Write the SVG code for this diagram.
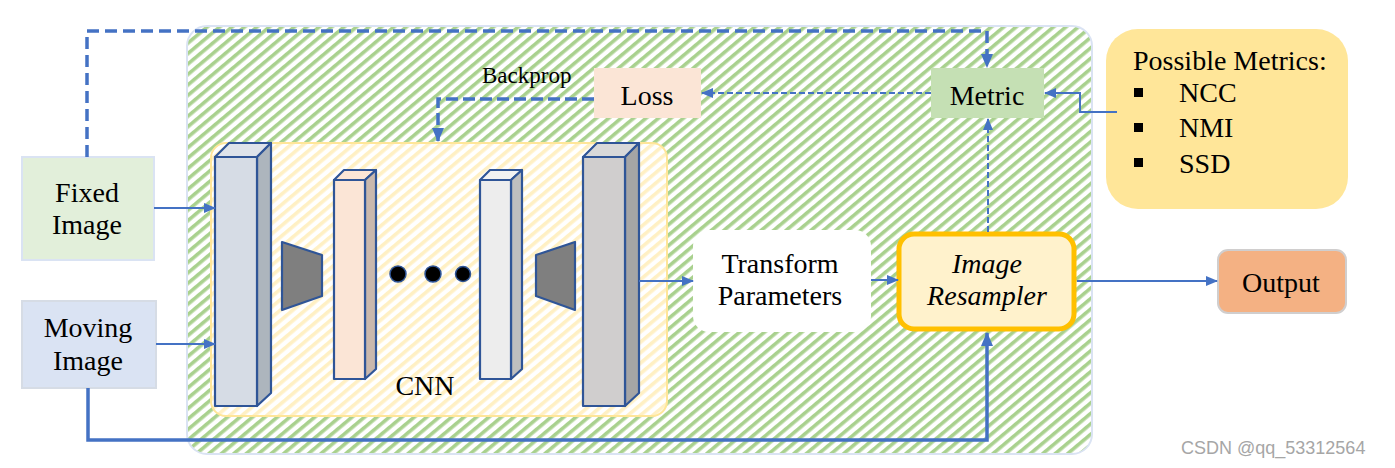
<svg xmlns="http://www.w3.org/2000/svg" width="1395" height="468" viewBox="0 0 1395 468">
<style>
.lbl{font-family:"Liberation Serif",serif;font-size:28px;fill:#000000;text-anchor:middle}
.lbs{font-family:"Liberation Serif",serif;font-size:28px;fill:#000000}
.edge{stroke:#4472c4;stroke-width:2;fill:none}
.thick{stroke:#4472c4;stroke-width:3.5;fill:none}
.blk{stroke:#2f5597;stroke-width:2.2;stroke-linejoin:round}
</style>
<defs>
<pattern id="gh" width="8" height="10" patternUnits="userSpaceOnUse" patternTransform="rotate(50)">
<rect width="8" height="10" fill="#ffffff"/>
<rect width="3.6" height="10" fill="#a9d18e"/>
</pattern>
<pattern id="yh" width="8" height="10" patternUnits="userSpaceOnUse" patternTransform="rotate(50)">
<rect width="8" height="10" fill="#ffffff"/>
<rect width="3.6" height="10" fill="#fff0c4"/>
</pattern>
<marker id="a" markerWidth="12" markerHeight="10" refX="11" refY="5" orient="auto" markerUnits="userSpaceOnUse">
<path d="M0,0 L12,5 L0,10 z" fill="#4472c4"/>
</marker>
<marker id="ab" markerWidth="14" markerHeight="12" refX="13" refY="6" orient="auto" markerUnits="userSpaceOnUse">
<path d="M0,0 L14,6 L0,12 z" fill="#4472c4"/>
</marker>
</defs>

<g id="outer">
<rect x="187" y="26" width="905" height="428" rx="20" fill="url(#gh)" stroke="#dae3f3" stroke-width="2"/>
</g>

<g id="cnn">
<rect x="211" y="143" width="456" height="273" rx="15" fill="url(#yh)" stroke="#ffe699" stroke-width="2"/>
<text class="lbl" x="425" y="395">CNN</text>
</g>

<g id="block1">
<polygon class="blk" points="215,157 229,143 271,143 257,157" fill="#dee3ea"/>
<polygon class="blk" points="257,157 271,143 271,393 257,406" fill="#adb5bd"/>
<rect class="blk" x="215" y="157" width="42" height="249" fill="#d6dce5"/>
</g>
<g id="block2">
<polygon class="blk" points="334,180 344,170 376,170 365,180" fill="#fbe5d6"/>
<polygon class="blk" points="365,180 376,170 376,369 365,379" fill="#c9b8ad"/>
<rect class="blk" x="334" y="180" width="31" height="199" fill="#fbe5d6"/>
</g>
<g id="block3">
<polygon class="blk" points="480,180 490,170 522,170 511,180" fill="#f2f2f2"/>
<polygon class="blk" points="511,180 522,170 522,369 511,379" fill="#bfbfbf"/>
<rect class="blk" x="480" y="180" width="31" height="199" fill="#ededed"/>
</g>
<g id="block4">
<polygon class="blk" points="583,157 597,143 639,143 625,157" fill="#d9d9d9"/>
<polygon class="blk" points="625,157 639,143 639,393 625,406" fill="#a5a5a5"/>
<rect class="blk" x="583" y="157" width="42" height="249" fill="#d0cece"/>
</g>
<g id="pool1">
<polygon class="blk" points="282,242 322,255 322,296 282,310" fill="#7f7f7f"/>
</g>
<g id="pool2">
<polygon class="blk" points="536,255 575,242 575,310 536,296" fill="#7f7f7f"/>
</g>
<g id="dots">
<circle cx="398" cy="274" r="8" fill="#000" stroke="#2f5597" stroke-width="1.5"/>
<circle cx="433" cy="274" r="8" fill="#000" stroke="#2f5597" stroke-width="1.5"/>
<circle cx="463" cy="274" r="7.5" fill="#000" stroke="#2f5597" stroke-width="1.5"/>
</g>

<g id="fixed">
<rect x="22" y="157" width="132" height="103" fill="#e2efda" stroke="#dae3f3" stroke-width="2"/>
<text class="lbl" x="87" y="202">Fixed</text>
<text class="lbl" x="87" y="234">Image</text>
</g>
<g id="moving">
<rect x="22" y="301" width="134" height="87" fill="#dae3f3" stroke="#d6dce5" stroke-width="2"/>
<text class="lbl" x="88" y="337">Moving</text>
<text class="lbl" x="88" y="370">Image</text>
</g>
<g id="transform">
<rect x="693" y="230" width="178" height="102" rx="16" fill="#ffffff"/>
<text class="lbl" x="780" y="273">Transform</text>
<text class="lbl" x="780" y="305">Parameters</text>
</g>
<g id="resampler">
<rect x="899" y="234" width="175" height="95" rx="15" fill="#fff2cc" stroke="#ffc000" stroke-width="5"/>
<text class="lbl" x="987" y="273" font-style="italic">Image</text>
<text class="lbl" x="987" y="305" font-style="italic">Resampler</text>
</g>
<g id="output">
<rect x="1218" y="250" width="128" height="63" rx="10" fill="#f4b183" stroke="#d0cece" stroke-width="2"/>
<text class="lbl" x="1281" y="292">Output</text>
</g>
<g id="metric">
<rect x="931" y="68" width="113" height="50" fill="#c5e0b4"/>
<text class="lbl" x="987" y="105">Metric</text>
</g>
<g id="loss">
<rect x="594" y="68" width="107" height="50" fill="#fbe5d6"/>
<text class="lbl" x="647" y="105">Loss</text>
</g>
<g id="metrics-list">
<rect x="1106" y="29" width="242" height="180" rx="32" fill="#ffe699"/>
<text class="lbs" x="1133" y="70">Possible Metrics:</text>
<rect x="1134" y="88" width="9" height="9" fill="#000"/>
<text class="lbs" x="1179" y="102">NCC</text>
<rect x="1134" y="123" width="9" height="9" fill="#000"/>
<text class="lbs" x="1179" y="137">NMI</text>
<rect x="1134" y="158" width="9" height="9" fill="#000"/>
<text class="lbs" x="1179" y="173">SSD</text>
</g>

<g id="connectors">
<path class="thick" d="M87,157 V31 H987 V67" stroke-dasharray="12 6" marker-end="url(#ab)"/>
<path class="thick" d="M594,99 H438 V141" stroke-dasharray="12 5" marker-end="url(#ab)"/>
<text x="482" y="83" font-family="Liberation Serif, serif" font-size="23" fill="#000">Backprop</text>
<path class="edge" d="M931,93 H702" stroke-dasharray="6 3" marker-end="url(#a)"/>
<path class="edge" d="M988,232 V119" stroke-dasharray="6 3" marker-end="url(#a)"/>
<path class="edge" d="M1117,112 H1080 V93 H1045" marker-end="url(#a)"/>
<path class="edge" d="M154,208 H215" marker-end="url(#a)"/>
<path class="edge" d="M156,344 H215" marker-end="url(#a)"/>
<path class="edge" d="M639,281 H693" marker-end="url(#a)"/>
<path class="edge" d="M871,280 H898" marker-end="url(#a)"/>
<path class="edge" d="M1077,281 H1217" marker-end="url(#a)"/>
<path class="thick" d="M88,388 V440 H987 V333" marker-end="url(#ab)"/>
</g>

<text x="1181" y="454" font-family="Liberation Sans, sans-serif" font-size="18" fill="#a6a6a6">CSDN @qq_53312564</text>
</svg>
